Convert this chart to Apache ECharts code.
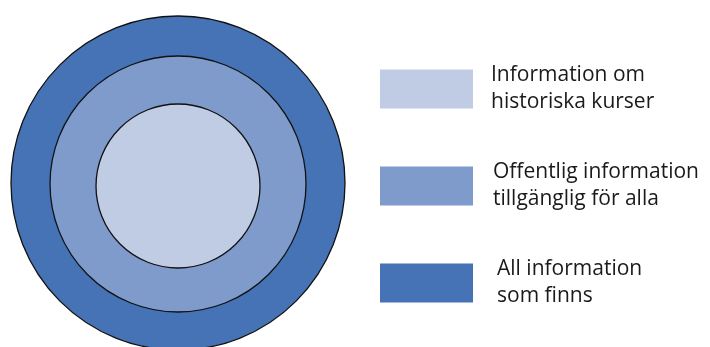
<!DOCTYPE html>
<html><head><meta charset="utf-8">
<script src="https://cdn.jsdelivr.net/npm/echarts@6/dist/echarts.min.js"></script>
<style>html,body{margin:0;padding:0;background:#fff}#c{width:710px;height:347px}</style>
</head><body><div id="c"></div>
<script>
// Levels, from innermost to outermost
const categories = ['Information om\nhistoriska kurser', 'Offentlig information\ntillgänglig för alla', 'All information\nsom finns'];
// relative extent (radius) of each level
const values = [82, 128, 167];
const radiusMax = 167;
const colors = ['#c0cce4', '#7e9bcb', '#4673b5'];
const centersY = [186, 184, 183];
const textPads = [[0,0,0,13],[0,0,0,15],[0,0,0,19]];

const chart = echarts.init(document.getElementById('c'), null, {renderer:'canvas'});
const polars = [], angleAxes = [], radiusAxes = [], series = [];
for (let k = 0; k < categories.length; k++) {
  const i = categories.length - 1 - k; // outermost first
  polars.push({center: [178, centersY[i]], radius: 167});
  angleAxes.push({polarIndex: k, type: 'category', data: ['a'], show: false, startAngle: 90});
  radiusAxes.push({polarIndex: k, type: 'value', min: 0, max: radiusMax, show: false});
  series.push({
    name: categories[i], type: 'bar', coordinateSystem: 'polar', polarIndex: k,
    data: [values[i]], barWidth: '100%',
    z: 10 + k,
    itemStyle: {color: colors[i], borderColor: '#111', borderWidth: 1.3},
    silent: true, animation: false
  });
}
chart.setOption({
  animation: false,
  polar: polars,
  angleAxis: angleAxes,
  radiusAxis: radiusAxes,
  legend: {
    orient: 'vertical', left: 375, top: 57,
    itemWidth: 93, itemHeight: 39, itemGap: 43,
    icon: 'rect', selectedMode: false,
    data: categories.map((c, i) => ({name: c, itemStyle: {borderWidth: 0}, textStyle: {padding: textPads[i]}})),
    textStyle: {fontFamily: 'Open Sans', fontSize: 21, color: '#1a1a1a', lineHeight: 27}
  },
  series: series
});
</script></body></html>
